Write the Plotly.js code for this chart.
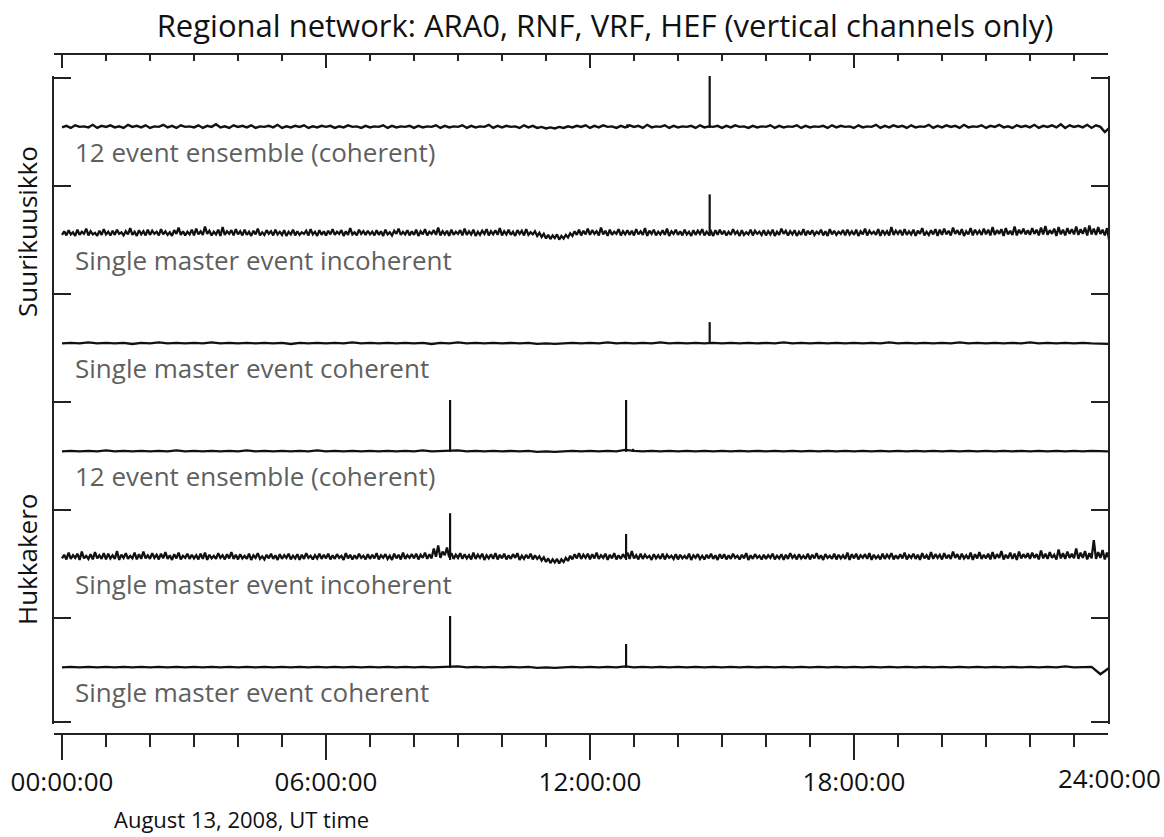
<!DOCTYPE html>
<html><head><meta charset="utf-8">
<script src="https://cdn.plot.ly/plotly-3.0.1.min.js"></script>
<style>html,body{margin:0;padding:0;background:#fff}#chart{width:1164px;height:837px}</style>
</head><body><div id="chart"></div>
<script>
// ---------------- data ----------------
const titleText = "Regional network: ARA0, RNF, VRF, HEF (vertical channels only)";
const stationNames = ["Suurikuusikko", "Hukkakero"];
const panelLabels = [
  "12 event ensemble (coherent)",
  "Single master event incoherent",
  "Single master event coherent",
  "12 event ensemble (coherent)",
  "Single master event incoherent",
  "Single master event coherent"
];
const tickHours = [0, 6, 12, 18];
const tickLabels = ["00:00:00", "06:00:00", "12:00:00", "18:00:00"];
const lastTickLabel = "24:00:00";
const xAxisLabel = "August 13, 2008, UT time";

// detector output in percent of the panel's top tick; sample spacing in hours
// Panel 1: Suurikuusikko, 12 event ensemble (coherent) — 0.1 h samples
const p1Step = 0.1;
const p1Noise = [
  1,4,0,5,2,3,1,6,0,4, 2,5,1,3,0,6,2,4,1,5, 0,3,2,6,1,4,0,5,2,3,
  1,5,0,4,2,7,1,3,0,5, 2,4,1,5,0,3,2,4,1,6, 0,3,1,4,2,5,0,3,1,4,
  2,4,0,3,1,5,2,3,0,4, 1,3,2,5,0,4,1,3,2,4, 0,4,1,3,2,5,0,4,1,3,
  2,5,0,4,1,3,2,6,0,4, 1,4,2,3,0,5,1,4,0,2, -1,1,-1,2,0,3,1,4,2,5,
  0,4,1,5,2,3,0,4,1,5, 2,4,0,6,1,3,2,5,0,4, 1,3,2,4,0,5,1,3,2,4,
  0,4,1,5,2,3,0,4,1,3, 2,5,0,4,1,3,2,5,0,4, 1,3,2,4,0,5,1,4,2,3,
  0,5,1,3,2,6,0,4,1,5, 2,4,0,5,1,3,2,6,0,4, 1,5,2,4,0,6,1,3,2,5,
  0,4,2,6,1,3,0,5,2,4, 1,6,0,4,2,5,1,7,0,5, 2,4,1,6,0,5,2,-8,0
];
const p1SpikeTimes = [14.72, 12.85];
const p1SpikeHeights = [100, 7];

// Panel 2: Suurikuusikko, single master event incoherent — 0.05 h samples
const p2Step = 0.05;
const p2Noise = [
  2,9,1,11,3,7,0,12,2,8,4,14,1,9,3,6,0,10,2,13,
  3,8,1,10,2,12,4,7,1,9,3,15,2,8,0,11,3,9,1,12,
  2,10,4,8,1,13,3,9,2,7,0,11,4,16,2,9,1,8,3,12,
  1,14,3,9,2,18,4,10,1,8,3,12,0,17,2,9,4,11,1,13,
  3,9,1,12,2,8,0,10,3,14,1,7,2,11,4,9,1,12,3,8,
  2,11,0,8,3,12,1,9,2,7,4,10,1,13,3,8,0,11,2,9,
  1,10,3,13,2,8,4,11,0,9,2,15,3,7,1,12,4,9,2,10,
  3,8,1,11,2,9,0,12,3,7,1,10,4,14,2,8,3,11,1,9,
  2,12,0,9,3,13,1,8,4,11,2,16,1,9,3,10,0,12,2,8,
  4,11,1,14,2,9,3,12,0,8,2,10,4,13,1,9,3,11,2,15,
  1,9,3,12,2,8,0,11,4,10,1,13,2,7,3,9,0,6,-2,4,
  -5,2,-6,1,-4,3,-7,0,-5,2,-3,5,0,9,2,12,1,10,3,14,
  2,11,4,9,1,16,3,10,0,12,2,8,4,13,1,9,3,11,2,10,
  1,13,3,9,2,15,0,10,4,12,1,8,3,11,2,14,0,9,4,12,
  2,9,1,12,3,8,0,11,2,10,4,13,1,8,3,9,0,11,2,12,
  3,10,1,8,2,13,4,9,0,11,2,7,3,12,1,10,4,8,2,11,
  1,9,3,12,0,8,2,14,4,10,1,9,3,11,0,8,2,13,1,10,
  3,11,2,8,4,12,1,9,0,13,3,10,2,8,4,11,1,12,3,9,
  2,12,0,9,3,14,1,10,4,8,2,13,0,11,3,9,1,17,2,10,
  4,11,1,13,2,9,3,12,0,10,4,15,1,8,2,11,3,13,0,12,
  2,14,3,10,1,16,4,11,2,13,0,9,3,15,1,12,4,10,2,14,
  3,12,1,17,2,11,4,13,0,15,3,10,2,18,1,12,4,14,3,11,
  2,15,4,12,1,16,3,19,2,11,4,14,0,17,3,12,1,15,4,13,
  3,18,2,13,4,16,1,20,3,14,2,17,4,12,1,15,-8,0
];
const p2SpikeTimes = [14.72];
const p2SpikeHeights = [80];

// Panel 3: Suurikuusikko, single master event coherent — 0.2 h samples
const p3Step = 0.2;
const p3Noise = [
  1,2,1,3,1, 2,1,2,0,2, 1,3,1,2,1, 2,1,3,1,2, 1,2,1,2,1, 2,0,2,1,2,
  1,2,1,3,1, 2,1,2,1,2, 1,2,0,2,1, 3,1,2,1,2, 1,2,1,2,0, 1,0,1,2,1,
  2,1,3,1,2, 1,2,1,3,1, 2,1,2,1,2, 1,2,1,2,1, 2,1,3,1,2, 1,2,1,2,1,
  2,1,2,1,3, 1,2,1,2,1, 2,1,3,1,2, 1,2,1,2,1, 3,1,2,1,2, 1,2,1,0,0
];
const p3SpikeTimes = [14.72];
const p3SpikeHeights = [42];

// Panel 4: Hukkakero, 12 event ensemble (coherent) — 0.2 h samples
const p4Step = 0.2;
const p4Noise = [
  1,2,1,2,1, 3,1,2,1,2, 1,2,1,3,1, 2,1,2,1,2, 1,3,1,2,1, 2,1,2,1,3,
  1,2,1,2,1, 2,1,2,1,2, 1,3,1,2,2, 3,1,2,1,2, 1,2,1,2,0, 1,0,1,2,1,
  2,1,2,1,4, 2,1,2,1,2, 1,2,1,2,1, 2,1,2,1,2, 1,2,1,2,1, 2,1,2,1,2,
  1,2,1,2,1, 2,1,2,1,2, 1,2,1,2,1, 2,1,2,1,2, 1,2,1,2,1, 2,1,2,1,1
];
const p4SpikeTimes = [8.82, 12.82, 12.98];
const p4SpikeHeights = [100, 100, 6];

// Panel 5: Hukkakero, single master event incoherent — 0.05 h samples
const p5Step = 0.05;
const p5Noise = [
  3,10,1,14,2,9,4,12,0,16,3,8,2,11,1,15,3,9,2,13,
  1,12,3,9,2,17,0,10,4,13,2,8,3,14,1,11,2,16,3,9,
  2,13,4,10,1,12,3,15,2,9,0,11,3,14,1,8,4,12,2,10,
  3,9,1,12,2,14,0,10,3,8,2,13,4,9,1,11,3,15,2,10,
  1,11,3,8,2,12,0,9,4,13,2,7,1,10,3,12,2,9,0,11,
  2,9,4,12,1,8,3,11,0,10,2,13,4,8,1,9,3,12,2,10,
  3,12,1,9,2,11,4,8,0,13,3,10,1,9,2,12,4,8,1,11,
  2,10,3,13,1,9,4,11,2,8,0,12,3,10,1,14,2,9,4,11,
  3,12,1,10,4,14,2,11,3,22,6,28,4,16,9,24,5,13,2,10,
  4,13,2,11,3,9,1,14,2,10,4,12,0,9,3,11,2,13,1,10,
  3,12,1,9,2,11,4,13,0,8,2,10,3,12,1,9,2,7,-1,5,
  -4,3,-6,1,-5,2,-7,1,-4,4,-2,8,1,11,3,13,2,10,4,12,
  1,11,3,14,2,9,4,12,0,10,3,13,1,9,2,11,4,14,2,17,
  3,9,1,12,2,10,4,8,0,11,3,9,2,12,1,10,4,8,2,11,
  1,10,3,8,2,12,0,9,4,11,2,8,1,10,3,12,2,9,0,11,
  3,11,1,9,2,12,4,8,1,10,3,13,0,9,2,11,4,8,1,10,
  2,9,4,12,1,8,3,11,0,10,2,13,4,9,1,11,3,8,2,12,
  1,10,3,13,2,9,0,11,4,8,2,12,1,10,3,9,2,14,0,11,
  3,12,1,9,4,11,2,13,0,10,3,8,1,12,2,10,4,13,1,9,
  2,11,3,14,1,9,4,12,2,10,0,13,3,9,1,15,2,11,4,10,
  1,13,3,10,2,16,4,11,1,12,3,9,2,14,0,11,3,15,2,10,
  3,12,1,15,2,11,4,17,1,10,3,14,2,12,0,16,3,11,4,13,
  2,14,4,11,1,18,3,12,2,15,4,10,1,20,3,13,2,16,4,12,
  3,22,2,14,4,17,1,13,3,38,2,15,4,19,1,14,3,6
];
const p5SpikeTimes = [8.82, 12.82];
const p5SpikeHeights = [90, 50];

// Panel 6: Hukkakero, single master event coherent — 0.2 h samples
const p6Step = 0.2;
const p6Noise = [
  1,2,1,2,1, 2,1,2,1,2, 1,2,1,2,1, 2,1,2,1,2, 1,2,1,2,1, 2,1,2,1,2,
  1,2,1,2,1, 2,1,2,1,2, 1,2,1,2,2, 3,1,2,1,2, 1,2,1,2,0, 1,0,1,2,1,
  2,1,2,1,3, 1,2,1,2,1, 2,1,2,1,2, 1,2,1,2,1, 2,1,2,1,2, 1,2,1,2,1,
  2,1,2,1,2, 1,2,1,2,1, 2,1,2,1,2, 1,2,1,2,1, 2,1,2,1,3, 1,2,2,-12,0
];
const p6SpikeTimes = [8.82, 12.82];
const p6SpikeHeights = [100, 46];

// ---------------- build ----------------
const panels = [
  {noise: p1Noise, step: p1Step, st: p1SpikeTimes, sh: p1SpikeHeights, w: 2.4},
  {noise: p2Noise, step: p2Step, st: p2SpikeTimes, sh: p2SpikeHeights, w: 2.3},
  {noise: p3Noise, step: p3Step, st: p3SpikeTimes, sh: p3SpikeHeights, w: 2.4},
  {noise: p4Noise, step: p4Step, st: p4SpikeTimes, sh: p4SpikeHeights, w: 2.4},
  {noise: p5Noise, step: p5Step, st: p5SpikeTimes, sh: p5SpikeHeights, w: 2.3},
  {noise: p6Noise, step: p6Step, st: p6SpikeTimes, sh: p6SpikeHeights, w: 2.4}
];

const FONT = "Open Sans, Noto Sans, sans-serif";
const INK = "#111";
const FRAME = "#222";
const GRAY = "#5f5f5f";

// geometry (pixels)
const W = 1164, H = 837;
const mL = 54, mR = 56, mT = 54, mB = 103;
const plotW = W - mL - mR;
const plotH = H - mT - mB;            // 680
const frameTopPx = 22;                 // frame starts 22px below the top axis
const panelPx = 108;
const xRange = [-8 / 44, 1046 / 44];
const yRange = [-108, 100];
const unitsPerPx = (yRange[1] - yRange[0]) / panelPx;
const tickInset = 2 * unitsPerPx;      // keep frame ticks just inside the panel edge

const data = [];
const layout = {
  width: W, height: H,
  margin: {l: mL, r: mR, t: mT, b: mB, pad: 0},
  paper_bgcolor: "#fff", plot_bgcolor: "#fff",
  showlegend: false,
  font: {family: FONT, color: INK},
  title: {
    text: titleText,
    font: {family: FONT, size: 31, color: INK},
    x: 605 / W, xanchor: "center", xref: "container",
    y: 1 - 26 / H, yanchor: "middle", yref: "container"
  },
  xaxis: {
    range: xRange, anchor: "free", position: 0,
    showline: true, linecolor: FRAME, linewidth: 2,
    showgrid: false, zeroline: false,
    tickmode: "array", tickvals: tickHours, ticktext: tickLabels,
    ticks: "outside", ticklen: 25, tickwidth: 2, tickcolor: FRAME,
    tickfont: {family: FONT, size: 26, color: INK},
    minor: {dtick: 1, tick0: 0, ticks: "outside", ticklen: 12, tickwidth: 2, tickcolor: FRAME, showgrid: false}
  },
  xaxis2: {
    range: xRange, overlaying: "x", side: "top", anchor: "free", position: 1,
    showline: true, linecolor: FRAME, linewidth: 2,
    showgrid: false, zeroline: false, showticklabels: false,
    tickmode: "array", tickvals: tickHours,
    ticks: "inside", ticklen: 13, tickwidth: 2, tickcolor: FRAME,
    minor: {dtick: 1, tick0: 0, ticks: "inside", ticklen: 6, tickwidth: 2, tickcolor: FRAME, showgrid: false}
  },
  annotations: []
};

panels.forEach((p, i) => {
  const n = i + 1;
  const yName = n === 1 ? "y" : "y" + n;
  const axKey = n === 1 ? "yaxis" : "yaxis" + n;
  const topPx = frameTopPx + panelPx * i;
  const dTop = 1 - topPx / plotH;
  const dBot = 1 - (topPx + panelPx) / plotH;
  const tv = n === panels.length ? [yRange[0] + tickInset, yRange[1] - tickInset] : [yRange[1] - tickInset];
  layout[axKey] = {
    domain: [dBot, dTop], range: yRange, anchor: "x",
    showline: true, mirror: "ticks", linecolor: FRAME, linewidth: 2,
    showgrid: false, zeroline: false, showticklabels: false,
    tickmode: "array", tickvals: tv,
    ticks: "inside", ticklen: 17, tickwidth: 2, tickcolor: FRAME
  };
  data.push({
    type: "scatter", mode: "lines", x0: 0, dx: p.step, y: p.noise,
    xaxis: "x", yaxis: yName,
    line: {color: INK, width: p.w}, hoverinfo: "skip"
  });
  const sx = [], sy = [];
  p.st.forEach((t, k) => { sx.push(t, t, null); sy.push(0, p.sh[k], null); });
  data.push({
    type: "scatter", mode: "lines", x: sx, y: sy,
    xaxis: "x", yaxis: yName,
    line: {color: INK, width: 2.2}, hoverinfo: "skip"
  });
  layout.annotations.push({
    text: panelLabels[i], showarrow: false,
    xref: "paper", x: (73 - mL) / plotW, xanchor: "left",
    yref: yName + " domain", y: 1 - 76 / panelPx, yanchor: "middle",
    font: {family: FONT, size: 26, color: GRAY}
  });
});

// invisible trace so the top axis exists
data.push({type: "scatter", mode: "lines", x: [0], y: [null], xaxis: "x2", yaxis: "y", hoverinfo: "skip"});

// station labels (rotated)
const stationCentersPx = [232, 560];
stationNames.forEach((s, i) => {
  layout.annotations.push({
    text: s, showarrow: false, textangle: -90,
    xref: "paper", x: (27 - mL) / plotW, xanchor: "center",
    yref: "paper", y: 1 - (stationCentersPx[i] - mT) / plotH, yanchor: "middle",
    font: {family: FONT, size: 26, color: INK}
  });
});

// last tick label (the 24 h tick sits just beyond the frame)
layout.annotations.push({
  text: lastTickLabel, showarrow: false,
  xref: "paper", x: (1109 - mL) / plotW, xanchor: "center",
  yref: "paper", y: -(778 - (mT + plotH)) / plotH, yanchor: "middle",
  font: {family: FONT, size: 26, color: INK}
});

// x axis caption
layout.annotations.push({
  text: xAxisLabel, showarrow: false,
  xref: "paper", x: (112 - mL) / plotW, xanchor: "left",
  yref: "paper", y: -(819 - (mT + plotH)) / plotH, yanchor: "middle",
  font: {family: FONT, size: 22, color: INK}
});

Plotly.newPlot("chart", data, layout, {staticPlot: true, displayModeBar: false});
</script>
</body></html>
